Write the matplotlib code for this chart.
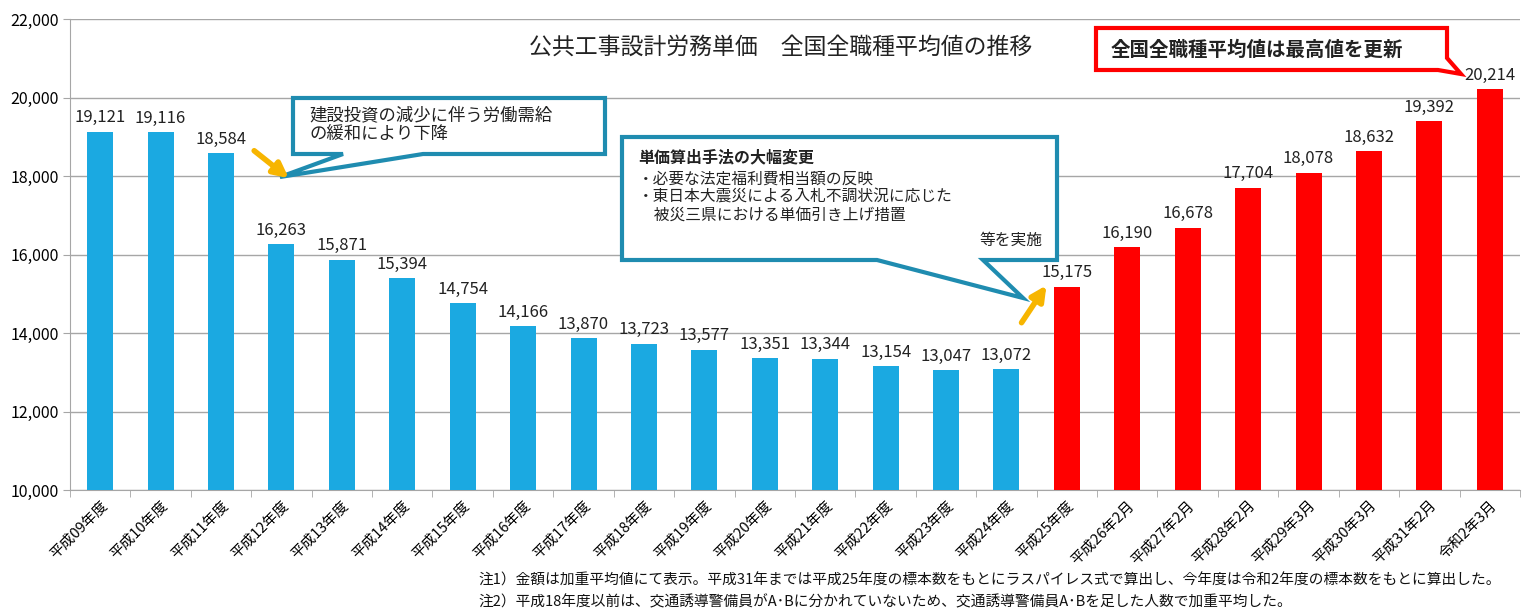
import numpy as np
import matplotlib.pyplot as plt
import matplotlib.transforms as mtransforms
from matplotlib.patches import Polygon, FancyArrowPatch
from matplotlib.ticker import FuncFormatter, FixedLocator

plt.rcParams['font.family'] = ['Noto Sans CJK JP', 'DejaVu Sans']

# データ
labels = ['平成09年度', '平成10年度', '平成11年度', '平成12年度', '平成13年度', '平成14年度',
          '平成15年度', '平成16年度', '平成17年度', '平成18年度', '平成19年度', '平成20年度',
          '平成21年度', '平成22年度', '平成23年度', '平成24年度', '平成25年度', '平成26年2月',
          '平成27年2月', '平成28年2月', '平成29年3月', '平成30年3月', '平成31年2月', '令和2年3月']
values = [19121, 19116, 18584, 16263, 15871, 15394, 14754, 14166, 13870, 13723, 13577, 13351,
          13344, 13154, 13047, 13072, 15175, 16190, 16678, 17704, 18078, 18632, 19392, 20214]
n_blue = 16  # 平成24年度まで青

title = '公共工事設計労務単価　全国全職種平均値の推移'
note1 = '注1）金額は加重平均値にて表示。平成31年までは平成25年度の標本数をもとにラスパイレス式で算出し、今年度は令和2年度の標本数をもとに算出した。'
note2 = '注2）平成18年度以前は、交通誘導警備員がA･Bに分かれていないため、交通誘導警備員A･Bを足した人数で加重平均した。'

W, H = 1522, 612
fig = plt.figure(figsize=(W / 100, H / 100), dpi=100)
ax = fig.add_axes([70 / W, 1 - 490 / H, 1450 / W, (490 - 19) / H])

# 画素座標 (左上原点) の変換
px = mtransforms.Affine2D().scale(1 / W, -1 / H).translate(0, 1) + fig.transFigure

blue = '#1BA9E1'
red = '#FF0000'
colors = [blue if i < n_blue else red for i in range(len(values))]
x = np.arange(len(values))
ax.bar(x, values, width=0.43, color=colors, zorder=3)

for xi, v in zip(x, values):
    ax.annotate(f'{v:,}', (xi, v), xytext=(0, 4), textcoords='offset points',
                ha='center', va='bottom', fontsize=12, color='#222222', zorder=5)

ax.set_xlim(-0.5, len(values) - 0.5)
ax.set_ylim(10000, 22000)
ax.set_yticks(np.arange(10000, 22001, 2000))
ax.yaxis.set_major_formatter(FuncFormatter(lambda v, p: f'{int(v):,}'))
ax.grid(axis='y', color='#A6A6A6', lw=1, zorder=0)
ax.set_axisbelow(True)

ax.set_xticks(x)
ax.set_xticklabels(labels, rotation=45, ha='right', rotation_mode='anchor', fontsize=10.5)
ax.xaxis.set_minor_locator(FixedLocator(np.arange(-0.5, len(values), 1)))
ax.tick_params(axis='x', which='major', length=0, pad=6)
ax.tick_params(axis='x', which='minor', length=5, color='#A6A6A6', direction='out')
ax.tick_params(axis='y', length=5, color='#A6A6A6', labelsize=11.5, pad=3)
for s in ['top', 'right']:
    ax.spines[s].set_visible(False)
for s in ['left', 'bottom']:
    ax.spines[s].set_color('#A6A6A6')

fig.text(781 / W, 1 - 47 / H, title, ha='center', va='center', fontsize=16.5, color='#222222')

# 吹き出し
teal = '#1F8CB0'
call1 = [(293, 98), (605, 98), (605, 154), (423, 154), (280, 177), (343, 154), (293, 154)]
call2 = [(622, 137), (1057, 137), (1057, 260), (983, 260), (1023, 298), (877, 260), (622, 260)]
call3 = [(1096, 28), (1447, 28), (1447, 58), (1461, 74), (1438, 70), (1096, 70)]
for pts, ec in [(call1, teal), (call2, teal), (call3, red)]:
    fig.patches.append(Polygon(pts, closed=True, transform=px, facecolor='white',
                               edgecolor=ec, lw=3, zorder=10))

fig.text(309 / W, 1 - 125 / H, '建設投資の減少に伴う労働需給\nの緩和により下降',
         ha='left', va='center', fontsize=12.5, linespacing=1.05, color='#222222', zorder=11)
fig.text(638 / W, 1 - 157 / H, '単価算出手法の大幅変更', ha='left', va='center', fontsize=11.5,
         fontweight='bold', color='#222222', zorder=11)
fig.text(638 / W, 1 - 197 / H, '・必要な法定福利費相当額の反映\n・東日本大震災による入札不調状況に応じた\n　被災三県における単価引き上げ措置',
         ha='left', va='center', fontsize=11.3, linespacing=1.08, color='#222222', zorder=11)
fig.text(1042 / W, 1 - 240 / H, '等を実施', ha='right', va='center', fontsize=11.3,
         color='#222222', zorder=11)
fig.text(1111 / W, 1 - 50 / H, '全国全職種平均値は最高値を更新', ha='left', va='center', fontsize=14,
         fontweight='bold', color='#222222', zorder=11)

# 黄色の矢印
gold = '#F7B500'
for start, end in [((252, 149), (291, 180)), ((1020, 325), (1048, 283))]:
    fig.patches.append(FancyArrowPatch(start, end, transform=px, arrowstyle='-|>',
                                       mutation_scale=22, lw=4, color=gold, zorder=12))

fig.text(478 / W, 1 - 580 / H, note1, ha='left', va='center', fontsize=10.6, color='#111111')
fig.text(478 / W, 1 - 602 / H, note2, ha='left', va='center', fontsize=10.6, color='#111111')

fig.savefig('out.png', dpi=100)
